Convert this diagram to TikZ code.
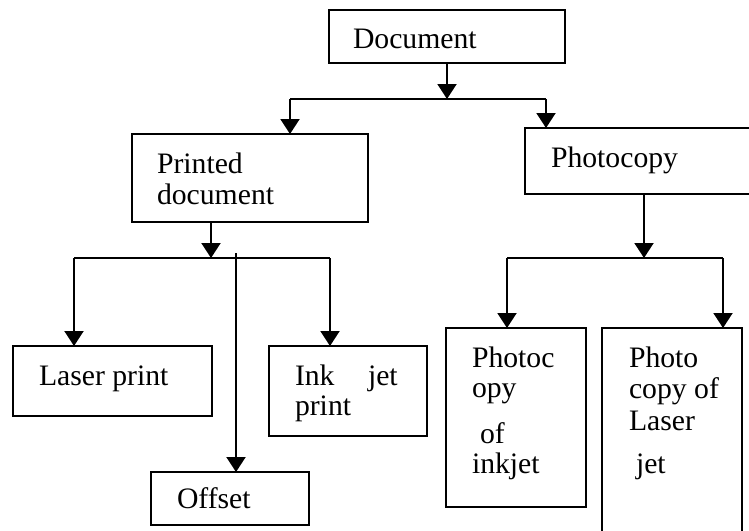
\documentclass[tikz,border=0pt]{standalone}
\usepackage{fontspec}
\setmainfont{Liberation Serif}
\usetikzlibrary{arrows.meta}
\begin{document}
\begin{tikzpicture}[x=1pt,y=-1pt,
  box/.style={draw=black, line width=1.6pt, anchor=north west, inner sep=0pt, outer sep=0pt},
  lbl/.style={anchor=base west, inner sep=0pt, outer sep=0pt, font=\fontsize{29.7}{31}\selectfont},
  conn/.style={line width=2pt},
  arr/.style={line width=2pt, -{Triangle[width=19pt,length=15pt]}}]
\useasboundingbox[fill=white] (0,0) rectangle (749,530);
% boxes
\node[box, minimum width=236pt, minimum height=53pt] (doc) at (329,10) {};
\node[box, minimum width=236pt, minimum height=88pt] (pd) at (132,134) {};
\node[box, minimum width=230pt, minimum height=66pt] (pc) at (525,128) {};
\node[box, minimum width=199pt, minimum height=70pt] (lp) at (13,346) {};
\node[box, minimum width=158pt, minimum height=90pt] (ij) at (269,346) {};
\node[box, minimum width=158pt, minimum height=53pt] (off) at (151,472) {};
\node[box, minimum width=140pt, minimum height=179pt] (pci) at (446,328) {};
\node[box, minimum width=140pt, minimum height=210pt] (pcl) at (602,328) {};
% labels
\node[lbl] (tdoc) at (353,48) {Document};
\node[lbl] (tpd1) at (157,173) {Printed};
\node[lbl] (tpd2) at (157,204) {document};
\node[lbl] (tpc) at (551,167) {Photocopy};
\node[lbl] (tlp) at (39,385) {Laser print};
\node[lbl] (tij1) at (295,385) {Ink};
\node[lbl] (tij2) at (368,385) {jet};
\node[lbl] (tij3) at (295,415) {print};
\node[lbl] (toff) at (177,508) {Offset};
\node[lbl] (tpci1) at (472,367) {Photoc};
\node[lbl] (tpci2) at (472,397) {opy};
\node[lbl] (tpci3) at (480,443) {of};
\node[lbl] (tpci4) at (472,473) {inkjet};
\node[lbl] (tpcl1) at (629,367) {Photo};
\node[lbl] (tpcl2) at (629,398) {copy of};
\node[lbl] (tpcl3) at (629,430) {Laser};
\node[lbl] (tpcl4) at (636,473) {jet};
% junction coordinates
\coordinate (j0) at (447,99);
\coordinate (j0l) at (290,99);
\coordinate (j0r) at (546,99);
\coordinate (j1) at (211,258);
\coordinate (j1l) at (74,258);
\coordinate (j1r) at (330,258);
\coordinate (j1o) at (236,253);
\coordinate (j2) at (644,258);
\coordinate (j2l) at (507,258);
\coordinate (j2r) at (723,258);
% connectors
\draw[arr] (doc.south) -- (j0);
\draw[conn] (j0l) -- (j0r);
\draw[arr] (j0l) -- (pd.north -| j0l);
\draw[arr] (j0r) -- (pc.north -| j0r);
\draw[arr] (pd.south -| j1) -- (j1);
\draw[conn] (j1l) -- (j1r);
\draw[arr] (j1l) -- (lp.north -| j1l);
\draw[arr] (j1r) -- (ij.north -| j1r);
\draw[arr] (j1o) -- (off.north -| j1o);
\draw[arr] (pc.south -| j2) -- (j2);
\draw[conn] (j2l) -- (j2r);
\draw[arr] (j2l) -- (pci.north -| j2l);
\draw[arr] (j2r) -- (pcl.north -| j2r);
\end{tikzpicture}
\end{document}
